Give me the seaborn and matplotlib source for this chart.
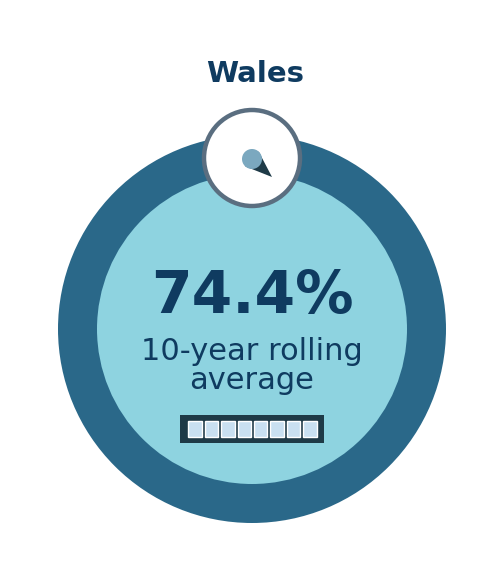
import matplotlib
matplotlib.use("Agg")
import matplotlib.pyplot as plt
from matplotlib.patches import Circle, Polygon
import numpy as np
import pandas as pd
import seaborn as sns

# ── Data ──────────────────────────────────────────────────────────────────────
region = "Wales"
rolling_avg = 74.4
avg_label = ["10-year rolling", "average"]
battery_cells = [1, 1, 1, 1, 1, 1, 1, 1]

# ── Colours ───────────────────────────────────────────────────────────────────
NAVY = "#0f3b60"
RING = "#2a6889"
DISC = "#8ed3e0"
BADGE_EDGE = "#5a6e80"
PIN = "#7ba8bf"
DARK = "#1e3a47"
CELL = "#c9e0f1"

sns.set_theme(style="white")
plt.rcParams["font.family"] = ["DejaVu Sans"]

W, H = 500, 580
fig = plt.figure(figsize=(W / 100, H / 100), dpi=100)
ax = fig.add_axes([0, 0, 1, 1])
ax.set_xlim(0, W)
ax.set_ylim(H, 0)
ax.set_aspect("equal")
ax.axis("off")

cx, cy = 252, 329
ax.add_patch(Circle((cx, cy), 194, color=RING, lw=0))
ax.add_patch(Circle((cx, cy), 155, color=DISC, lw=0))

# badge with pin icon
bx, by = 252, 158
ax.add_patch(Circle((bx, by), 48, facecolor="white", edgecolor=BADGE_EDGE, lw=3.2, zorder=3))
tip = np.array([272, 177])
c0 = np.array([252, 159])
d = (tip - c0) / np.linalg.norm(tip - c0)
perp = np.array([-d[1], d[0]])
r_pin = 10
ax.add_patch(Polygon([c0 + perp * r_pin, c0 - perp * r_pin, tip],
                     closed=True, color=DARK, lw=0, zorder=4))
ax.add_patch(Circle(tuple(c0), r_pin, color=PIN, lw=0, zorder=5))

# texts
ax.text(W / 2 + 5, 82, region, ha="center", va="baseline",
        fontsize=21, fontweight="bold", color=NAVY)
ax.text(cx, 313, f"{rolling_avg}%", ha="center", va="baseline",
        fontsize=42, fontweight="bold", color=NAVY)
ax.text(cx, 360, avg_label[0], ha="center", va="baseline",
        fontsize=22, color=NAVY)
ax.text(cx, 389, avg_label[1], ha="center", va="baseline",
        fontsize=22, color=NAVY)

# battery gauge
bax = fig.add_axes([180 / W, 1 - 443 / H, 144 / W, 28 / H])
cells = pd.DataFrame({"cell": range(len(battery_cells)), "fill": battery_cells})
sns.barplot(data=cells, x="cell", y="fill", color=CELL, width=0.82,
            saturation=1, ax=bax)
bax.set_facecolor(DARK)
bax.set_xlim(-0.5 - 7 / 16.4, len(battery_cells) - 0.5 + 6 / 16.4)
bax.set_ylim(-6 / 16, 1 + 6 / 16)
bax.set_xticks([])
bax.set_yticks([])
bax.set_xlabel("")
bax.set_ylabel("")
for s in bax.spines.values():
    s.set_visible(False)

fig.savefig("out.png", dpi=100)
